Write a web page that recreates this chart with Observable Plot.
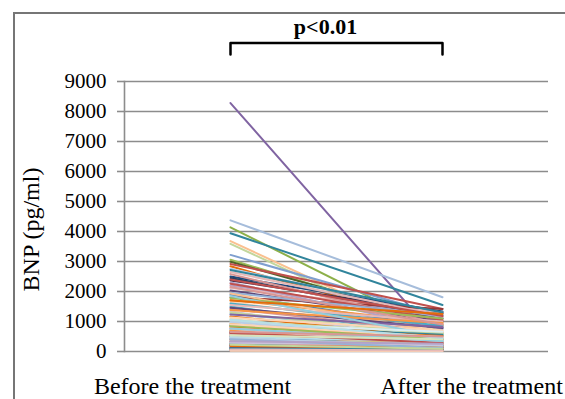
<!DOCTYPE html>
<html>
<head>
<meta charset="utf-8">
<script src="https://cdn.jsdelivr.net/npm/d3@7"></script>
<script src="https://cdn.jsdelivr.net/npm/@observablehq/plot@0.6"></script>
<style>
  html, body { margin: 0; padding: 0; background: #fff; overflow: hidden; }
  #wrap { position: relative; width: 565px; height: 399px; overflow: hidden; }
  #border { position: absolute; left: 13px; top: 12px; width: 700px; height: 500px;
            border-left: 2px solid #767676; border-top: 2px solid #767676; box-sizing: border-box; }
  #chart { position: absolute; left: 0; top: 0; }
  #chart svg, #chart svg text { font-family: "Liberation Serif", "Times New Roman", serif !important;
                                font-variant-numeric: normal !important; }
</style>
</head>
<body>
<div id="wrap"><div id="border"></div><div id="chart"></div></div>
<script>
// ---- data ----
const categories = ["Before the treatment", "After the treatment"];
const yTicks = [0, 1000, 2000, 3000, 4000, 5000, 6000, 7000, 8000, 9000];
const yLabel = "BNP (pg/ml)";
const pValueLabel = "p<0.01";
const bracketLevels = [9900, 10280]; // bracket feet and top, BNP units

// BNP per patient (pg/ml), before and after the treatment
const before = [
  8280, 4370, 4140, 3940, 3680, 3590, 3220, 3060, 2990, 2920,
  2840, 2760, 2500, 2450, 2370, 2200, 2120, 2030, 1890, 1810,
  1720, 1650, 1500, 1420, 1330, 1260, 1170, 1090, 920, 810,
  2650, 2580, 2300, 2260, 1960, 1930, 1780, 1600, 1550, 1460,
  1380, 1300, 1230, 1130, 1060, 2720, 2400, 2150, 1850, 1700,
  960, 310, 720, 140, 880, 450, 65, 590, 1020, 230,
  810, 390, 520, 170, 940, 280, 660, 105, 760, 430,
  35, 610, 250, 870, 360, 480, 190, 700, 90, 550,
  330, 990, 150, 640, 410, 275, 780, 55, 500, 205,
  920, 370, 120, 680, 460, 300, 830, 80, 570, 240,
  735, 420, 160, 600, 350, 45, 850, 260, 530, 130,
  690, 395, 215, 910, 480, 100, 620, 320, 770, 180,
  440, 25, 540, 290, 1050, 70, 410, 650, 225, 340
];
const after = [
  250, 1810, 600, 1550, 400, 300, 1200, 900, 1000, 1420,
  850, 1250, 1330, 1100, 1280, 1150, 1300, 1000, 800, 1420,
  950, 700, 530, 650, 400, 600, 450, 300, 500, 350,
  1180, 900, 750, 1050, 1200, 620, 1100, 860, 1000, 780,
  950, 560, 820, 700, 380, 1300, 1180, 900, 480, 1250,
  420, 120, 510, 60, 300, 230, 40, 180, 610, 150,
  270, 90, 340, 110, 660, 70, 390, 55, 210, 280,
  25, 450, 95, 560, 190, 140, 80, 330, 45, 260,
  210, 380, 100, 160, 310, 130, 470, 30, 200, 160,
  250, 240, 85, 290, 110, 175, 520, 50, 360, 60,
  240, 170, 125, 220, 150, 20, 410, 200, 300, 75,
  140, 260, 115, 480, 330, 70, 280, 90, 350, 135,
  190, 15, 410, 230, 450, 35, 120, 500, 90, 260
];

// Excel-like series colours (style only)
const palette = [
  "#8064A2", "#A6BDDB", "#8DB04A", "#31859C", "#FAC090", "#C3D69B", "#7F9FCF", "#9BBB59", "#4F6228", "#C0504D",
  "#E46C0A", "#B9CDE5", "#1F497D", "#254061", "#403151", "#B3A2C7", "#E6B9B8", "#5F497A", "#4F81BD", "#953735",
  "#F79646", "#FCD5B5", "#4BACC6", "#D99694", "#CCC1DA", "#93CDDD", "#E46C0A", "#D7E4BD", "#B7DEE8", "#F79646",
  "#E6B9B8", "#D99694", "#B3A2C7", "#C0504D", "#95B3D7", "#FAC090", "#9BBB59", "#4BACC6", "#E6B9B8", "#60497A",
  "#F79646", "#C3D69B", "#8064A2", "#FCD5B5", "#B7DEE8", "#31859C", "#C0504D", "#D99694", "#93CDDD", "#E46C0A",
  "#B9CDE5", "#FCD5B5", "#D7E4BD", "#CCC1DA", "#B7DEE8", "#E6B9B8", "#95B3D7", "#D99694", "#C3D69B", "#B3A2C7",
  "#DCE6F2", "#F2DCDB", "#EBF1DE", "#E6E0EC", "#DBEEF4", "#FDEADA", "#C0504D", "#FAC090", "#4F81BD", "#93CDDD"
];

const ids = before.map((_, i) => i);
const rows = ids.flatMap(i => [
  {id: i, phase: categories[0], bnp: before[i]},
  {id: i, phase: categories[1], bnp: after[i]}
]);
const colorRange = ids.map(i => palette[i % palette.length]);
const bracket = [
  {phase: categories[0], v: bracketLevels[0]},
  {phase: categories[0], v: bracketLevels[1]},
  {phase: categories[1], v: bracketLevels[1]},
  {phase: categories[1], v: bracketLevels[0]}
];

const gray = "#8c8c8c";
const serif = "'Liberation Serif', 'Times New Roman', serif";
const chart = Plot.plot({
  width: 565,
  height: 399,
  marginLeft: 124,
  marginRight: 17,
  marginTop: 81,
  marginBottom: 48,
  style: {fontFamily: serif, background: "transparent", overflow: "visible", color: "black"},
  x: {type: "point", domain: categories, padding: 0.5, axis: null},
  y: {domain: [0, 9000], axis: null},
  color: {type: "ordinal", domain: ids, range: colorRange},
  marks: [
    Plot.gridY(yTicks, {stroke: gray, strokeOpacity: 1, strokeWidth: 1.6}),
    Plot.axisY(yTicks, {tickSize: 7, tickPadding: 11, fontSize: 21, fontFamily: serif, fontVariant: "normal",
                        stroke: gray, strokeWidth: 1.6, fill: "black",
                        tickFormat: d => String(d), label: null}),
    Plot.frame({anchor: "left", stroke: gray, strokeWidth: 1.6}),
    Plot.line(rows, {x: "phase", y: "bnp", z: "id", stroke: "id", strokeWidth: 2}),
    Plot.axisX([categories[0]], {tickSize: 0, tickPadding: 25, fontSize: 24, fontFamily: serif, dx: -38, label: null, fill: "black"}),
    Plot.axisX([categories[1]], {tickSize: 0, tickPadding: 25, fontSize: 24, fontFamily: serif, dx: 29, label: null, fill: "black"}),
    Plot.text([yLabel], {frameAnchor: "left", text: d => d, rotate: -90, textAnchor: "middle", lineAnchor: "bottom",
                         dx: -86, dy: 13, fontSize: 24, fontFamily: serif, fill: "black"}),
    Plot.line(bracket, {x: "phase", y: "v", stroke: "black", strokeWidth: 2.5, strokeLinejoin: "round"}),
    Plot.text([pValueLabel], {frameAnchor: "top", text: d => d, lineAnchor: "bottom", dx: -11, dy: -48,
                              fontSize: 22, fontWeight: "bold", fontFamily: serif, fill: "black"})
  ]
});
document.getElementById("chart").appendChild(chart);
</script>
</body>
</html>
